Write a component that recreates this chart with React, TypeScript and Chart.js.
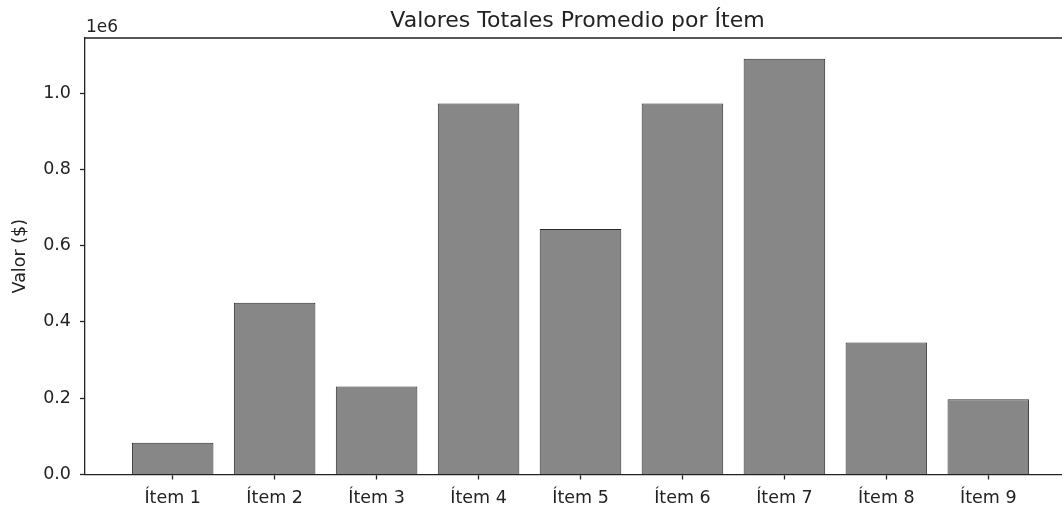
import React, { useEffect, useRef } from 'react';
import { Chart, registerables } from 'chart.js';

Chart.register(...registerables);

const categories = ['Ítem 1', 'Ítem 2', 'Ítem 3', 'Ítem 4', 'Ítem 5', 'Ítem 6', 'Ítem 7', 'Ítem 8', 'Ítem 9'];
const values = [83000, 450000, 231000, 973000, 644000, 973000, 1090000, 346000, 197000];
const yTickValues = [0, 200000, 400000, 600000, 800000, 1000000];
const titleText = 'Valores Totales Promedio por Ítem';
const yLabel = 'Valor ($)';
const offsetText = '1e6';

const W = 1100;
const H = 508;
const FONT = "'DejaVu Sans', 'Liberation Sans', sans-serif";
const INK = '#222222';

export default function App() {
  const ref = useRef<HTMLCanvasElement>(null);

  useEffect(() => {
    const canvas = ref.current;
    if (!canvas) return;

    const decor = {
      id: 'decor',
      afterDraw(chart: any) {
        const { ctx, chartArea } = chart;
        ctx.save();
        ctx.strokeStyle = INK;
        ctx.lineWidth = 1.3;
        ctx.beginPath();
        ctx.moveTo(chartArea.left, chartArea.top);
        ctx.lineTo(chartArea.right, chartArea.top);
        ctx.lineTo(chartArea.right, chartArea.bottom);
        ctx.stroke();
        ctx.fillStyle = INK;
        ctx.font = `22px ${FONT}`;
        ctx.textAlign = 'center';
        ctx.textBaseline = 'alphabetic';
        ctx.fillText(titleText, (chartArea.left + chartArea.right) / 2 - 3, chartArea.top - 11);
        ctx.font = `17px ${FONT}`;
        ctx.textAlign = 'left';
        ctx.fillText(offsetText, chartArea.left + 1, chartArea.top - 6);
        ctx.restore();
      },
    };

    const tickFont = { family: FONT, size: 17.5 };

    const chart = new Chart(canvas, {
      type: 'bar',
      data: {
        datasets: [
          {
            data: categories.map((_, i) => ({ x: i, y: values[i] })),
            backgroundColor: '#878787',
            borderColor: '#2b2b2b',
            borderWidth: 1,
            barPercentage: 0.8,
            categoryPercentage: 1,
          },
        ],
      },
      options: {
        responsive: false,
        animation: false,
        devicePixelRatio: 1,
        layout: { padding: { top: 38, left: 0, right: W - 1076, bottom: 0 } },
        plugins: {
          legend: { display: false },
          tooltip: { enabled: false },
          title: { display: false },
        },
        scales: {
          x: {
            type: 'linear',
            min: -0.86,
            max: categories.length - 1 + 0.86,
            offset: false,
            afterBuildTicks: (axis: any) => {
              axis.ticks = categories.map((_, i) => ({ value: i }));
            },
            afterFit: (axis: any) => {
              axis.height = 33.5;
            },
            ticks: {
              callback: (v: any) => categories[Math.round(Number(v))] ?? '',
              font: tickFont,
              color: INK,
              padding: 8,
              maxRotation: 0,
              autoSkip: false,
            },
            grid: {
              offset: false,
              drawOnChartArea: false,
              drawTicks: true,
              tickLength: 5,
              tickColor: INK,
              tickWidth: 1.3,
            },
            border: { display: true, color: INK, width: 1.3 },
          },
          y: {
            type: 'linear',
            min: 0,
            max: Math.max(...values) * 1.05,
            afterBuildTicks: (axis: any) => {
              axis.ticks = yTickValues.map((v) => ({ value: v }));
            },
            afterFit: (axis: any) => {
              axis.width = 85;
            },
            ticks: {
              callback: (v: any) => (Number(v) / 1e6).toFixed(1),
              font: tickFont,
              color: INK,
              padding: 9,
            },
            title: {
              display: true,
              text: yLabel,
              font: { family: FONT, size: 17.5 },
              color: INK,
              padding: { top: 10, bottom: 0 },
            },
            grid: {
              drawOnChartArea: false,
              drawTicks: true,
              tickLength: 5,
              tickColor: INK,
              tickWidth: 1.3,
            },
            border: { display: true, color: INK, width: 1.3 },
          },
        },
      },
      plugins: [decor],
    } as any);

    return () => chart.destroy();
  }, []);

  return (
    <div
      style={{
        position: 'fixed',
        left: 0,
        top: 0,
        width: 1062,
        height: H,
        overflow: 'hidden',
        background: '#ffffff',
      }}
    >
      <canvas ref={ref} width={W} height={H} style={{ display: 'block' }} />
    </div>
  );
}
